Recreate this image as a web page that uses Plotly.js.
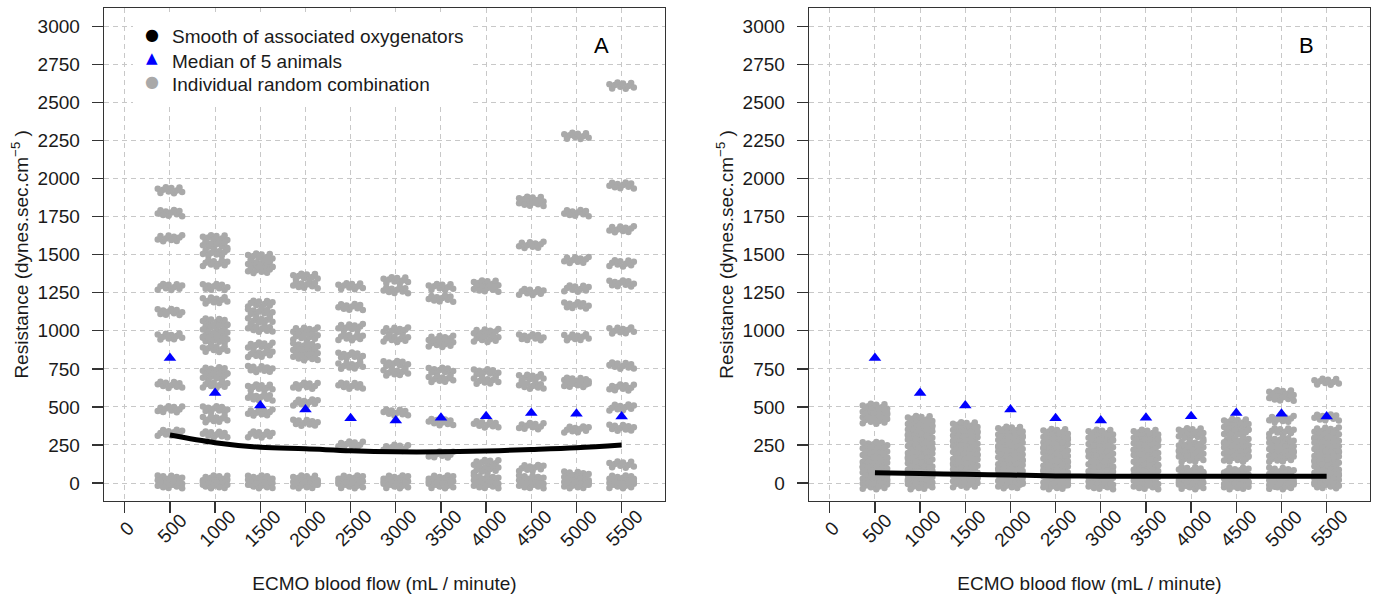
<!DOCTYPE html>
<html>
<head>
<meta charset="utf-8">
<script src="https://cdn.plot.ly/plotly-3.0.1.min.js"></script>
<style>html,body{margin:0;padding:0;background:#fff;}#chart{width:1378px;height:598px;}</style>
</head>
<body>
<div id="chart"></div>
<script>
// ---- data ----
const flows = [500, 1000, 1500, 2000, 2500, 3000, 3500, 4000, 4500, 5000, 5500];
const xTicks = [0, 500, 1000, 1500, 2000, 2500, 3000, 3500, 4000, 4500, 5000, 5500];
const yTicks = [0, 250, 500, 750, 1000, 1250, 1500, 1750, 2000, 2250, 2500, 2750, 3000];
const medians = [821, 591, 510, 483, 426, 411, 428, 438, 460, 455, 437];
const smoothA = [315, 265, 235, 225, 212, 205, 205, 210, 220, 232, 250];
const smoothB = [68, 62, 57, 53, 47, 45, 45, 45, 45, 45, 45];
// resistance levels of the grey clusters, one list per flow (panel A)
const clustersA = [
  [1923, 1773, 1608, 1288, 1123, 962, 645, 485, 330, 30, 8, -15],
  [1608, 1564, 1513, 1443, 1288, 1200, 1060, 1020, 975, 940, 881, 740, 700, 645, 485, 420, 319, 30, 8, -15],
  [1487, 1440, 1399, 1178, 1123, 1068, 1013, 903, 848, 749, 628, 562, 463, 319, 30, 8, -15],
  [1355, 1300, 1002, 960, 900, 860, 826, 639, 529, 396, 30, 8, -15],
  [1293, 1156, 1024, 958, 837, 771, 639, 253, 30, 8, -15],
  [1332, 1266, 1002, 947, 782, 727, 463, 231, 30, 8, -15],
  [1288, 1211, 947, 914, 738, 683, 400, 187, 30, 8, -15],
  [1311, 1277, 991, 947, 727, 672, 385, 132, 88, 30, 8, -15],
  [1861, 1839, 1564, 1255, 958, 694, 639, 374, 99, 30, 8, -15],
  [2280, 1773, 1465, 1277, 1167, 958, 672, 650, 352, 55, 30, 8, -15],
  [2610, 1954, 1667, 1443, 1311, 1002, 771, 628, 496, 363, 121, 30, 8, -15]
];
// panel B
const clustersB = [
  [500, 470, 440, 410, 250, 215, 180, 150, 120, 90, 60, 30, 5, -20],
  [420, 390, 360, 330, 300, 270, 240, 210, 180, 150, 120, 90, 60, 30, 5, -20],
  [380, 350, 320, 290, 260, 230, 200, 170, 140, 110, 80, 50, 20, -10],
  [350, 320, 290, 255, 225, 195, 165, 135, 105, 75, 45, 15, -15],
  [335, 305, 275, 245, 215, 185, 155, 125, 95, 65, 35, 5, -20],
  [330, 300, 265, 225, 195, 160, 120, 90, 60, 30, 0, -20],
  [330, 300, 270, 235, 200, 170, 135, 100, 65, 35, 5, -20],
  [340, 310, 255, 225, 195, 160, 85, 55, 25, 0, -20],
  [400, 370, 330, 280, 250, 220, 190, 160, 80, 50, 20, -5, -20],
  [590, 560, 420, 340, 280, 250, 220, 190, 160, 80, 50, 20, -5, -20],
  [665, 430, 345, 310, 280, 250, 220, 190, 160, 130, 100, 70, 40, 10, -15]
];
const legendNames = ["Smooth of associated oxygenators", "Median of 5 animals", "Individual random combination"];
const panelLabels = ["A", "B"];

// visual jitter of the dots inside a cluster (presentation only)
const JX = [-135, -105, -75, -45, -15, 15, 45, 75, 105, 135];
const JY = [10, -18, 4, 20, -8, 14, -20, -2, 18, -12];

function cloud(clusters) {
  const xs = [], ys = [];
  clusters.forEach((levels, i) => {
    levels.forEach((lv, k) => {
      for (let j = 0; j < JX.length; j++) {
        xs.push(flows[i] + JX[(j + k * 3) % JX.length]);
        ys.push(lv + JY[j]);
      }
    });
  });
  return {xs, ys};
}

const W = 1378, H = 598;
const GREY = '#a9a9a9';
const FONT = 'Liberation Sans, Arial, Helvetica, sans-serif';
const FS = 19;
const traces = [];
[[clustersA, smoothA, 'x', 'y'], [clustersB, smoothB, 'x2', 'y2']].forEach(([cl, sm, xa, ya]) => {
  const c = cloud(cl);
  traces.push({type: 'scatter', mode: 'markers', x: c.xs, y: c.ys, xaxis: xa, yaxis: ya,
    marker: {color: GREY, size: 6.5, line: {width: 0}}, showlegend: false, hoverinfo: 'skip'});
  traces.push({type: 'scatter', mode: 'lines', x: flows, y: sm, xaxis: xa, yaxis: ya,
    line: {color: '#000', width: 5, shape: 'spline'}, showlegend: false});
  traces.push({type: 'scatter', mode: 'markers', x: flows, y: medians, xaxis: xa, yaxis: ya,
    marker: {color: '#0000ff', size: 11, symbol: 'triangle-up'}, showlegend: false});
});

function xAxis(d) {
  return {domain: d, range: [-230, 5980], tickmode: 'array', tickvals: xTicks,
    showticklabels: false, ticks: 'outside', ticklen: 11, tickwidth: 1.3,
    tickcolor: '#333', showline: true, mirror: true, linecolor: '#333', linewidth: 1.3,
    showgrid: true, gridcolor: '#c8c8c8', gridwidth: 1, griddash: '5px,4px', zeroline: false,
    title: {text: 'ECMO blood flow (mL / minute)', font: {size: FS, color: '#1a1a1a', family: FONT}, standoff: 64}};
}
function yAxis() {
  return {domain: [1 - 500.7 / H, 1 - 8 / H], range: [-116, 3120], tickmode: 'array', tickvals: yTicks,
    ticktext: yTicks.map(String), ticks: 'outside', ticklen: 11, tickwidth: 1.3, tickcolor: '#333',
    ticklabelstandoff: 8,
    showline: true, mirror: true, linecolor: '#333', linewidth: 1.3,
    showgrid: true, gridcolor: '#c8c8c8', gridwidth: 1, griddash: '5px,4px', zeroline: false,
    tickfont: {size: FS, color: '#1a1a1a', family: FONT},
    title: {text: 'Resistance (dynes.sec.cm<sup>−5</sup> )', font: {size: FS, color: '#1a1a1a', family: FONT}, standoff: 4}};
}
const yA = yAxis(), yB = yAxis();
yB.anchor = 'x2';
const xA = xAxis([104 / W, 665 / W]);
const xB = xAxis([809 / W, 1370 / W]); xB.anchor = 'y2';

const annotations = [];
// rotated x tick labels, centred on each tick
['x', 'x2'].forEach(xr => {
  xTicks.forEach(t => annotations.push({text: String(t), x: t, xref: xr, y: 1 - 528 / H, yref: 'paper',
    xshift: 2, textangle: -45, showarrow: false, xanchor: 'center', yanchor: 'middle',
    font: {size: FS, family: FONT, color: '#1a1a1a'}}));
});
// panel letters
[[601.7, panelLabels[0]], [1306, panelLabels[1]]].forEach(([px, t]) => annotations.push({text: t,
  x: px / W, y: 1 - 45 / H, xref: 'paper', yref: 'paper', showarrow: false,
  xanchor: 'center', yanchor: 'middle', font: {size: 22, family: FONT, color: '#000'}}));
// legend (panel A)
const legRows = [36.7, 61.7, 84];
const legSym = [['●', '#000', 16, 35], ['▲', '#0000ff', 15, 58.3], ['●', GREY, 16, 81.7]];
legendNames.forEach((n, i) => {
  annotations.push({text: n, x: 170 / W, y: 1 - legRows[i] / H, xref: 'paper', yref: 'paper',
    showarrow: false, xanchor: 'left', yanchor: 'middle', font: {size: FS, family: FONT, color: '#1a1a1a'}});
  annotations.push({text: legSym[i][0], x: 152 / W, y: 1 - legSym[i][3] / H, xref: 'paper', yref: 'paper',
    showarrow: false, xanchor: 'center', yanchor: 'middle', font: {size: legSym[i][2], family: 'DejaVu Sans', color: legSym[i][1]}});
});

const layout = {
  width: W, height: H, margin: {l: 0, r: 0, t: 0, b: 0},
  paper_bgcolor: '#fff', plot_bgcolor: '#fff',
  font: {family: FONT, color: '#1a1a1a'},
  xaxis: xA, yaxis: yA, xaxis2: xB, yaxis2: yB,
  showlegend: false,
  shapes: [{type: 'rect', xref: 'paper', yref: 'paper', x0: 133 / W, x1: 470 / W, y0: 1 - 104 / H, y1: 1 - 12 / H,
    fillcolor: '#fff', line: {width: 0}, layer: 'above'}],
  annotations: annotations
};
Plotly.newPlot('chart', traces, layout, {displayModeBar: false, staticPlot: true});
</script>
</body>
</html>
